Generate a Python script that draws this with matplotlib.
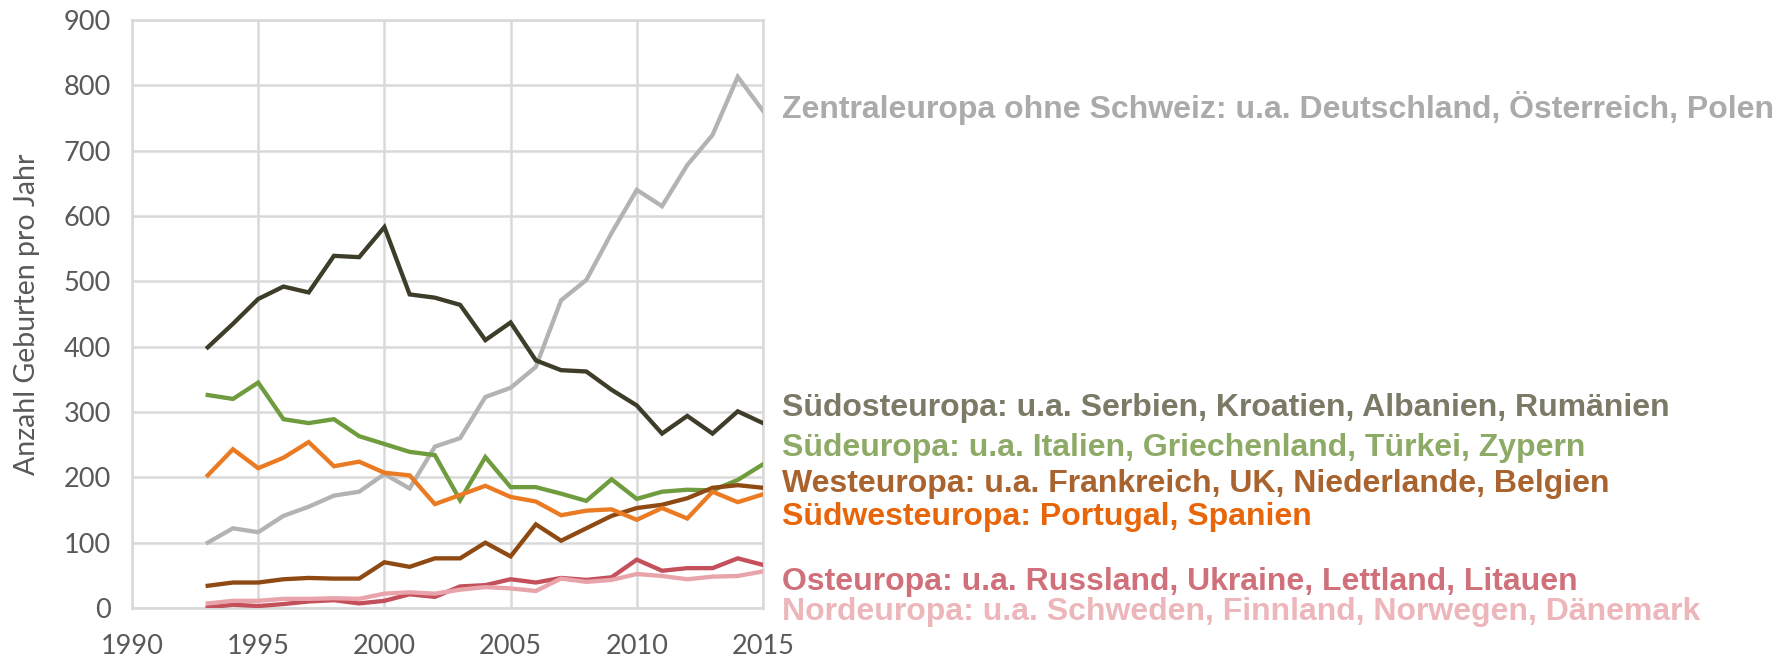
import matplotlib
matplotlib.use("Agg")
import matplotlib.pyplot as plt

years = list(range(1993, 2016))

zentral = [100, 122, 116, 141, 155, 172, 178, 205, 183, 247, 260, 323, 337, 369, 471, 502, 574, 640, 615, 678, 724, 813, 761]
suedost = [399, 435, 473, 492, 483, 539, 537, 583, 480, 475, 464, 410, 437, 379, 364, 362, 334, 310, 267, 294, 267, 301, 283]
sued = [326, 320, 345, 289, 283, 289, 263, 251, 239, 234, 165, 231, 185, 185, 175, 164, 197, 167, 178, 181, 180, 196, 220]
west = [34, 39, 39, 44, 46, 45, 45, 70, 63, 76, 76, 100, 79, 128, 103, 122, 141, 153, 158, 168, 184, 188, 184]
suedwest = [203, 243, 214, 230, 254, 217, 224, 207, 203, 159, 173, 187, 170, 163, 142, 149, 151, 135, 153, 137, 178, 162, 174]
ost = [1, 5, 3, 6, 10, 12, 7, 11, 21, 17, 33, 35, 44, 39, 46, 43, 47, 74, 57, 61, 61, 76, 66]
nord = [7, 11, 11, 14, 14, 15, 14, 22, 24, 22, 28, 32, 30, 26, 45, 40, 43, 52, 49, 44, 48, 49, 56]

labels = [
    "Zentraleuropa ohne Schweiz: u.a. Deutschland, Österreich, Polen",
    "Südosteuropa: u.a. Serbien, Kroatien, Albanien, Rumänien",
    "Südeuropa: u.a. Italien, Griechenland, Türkei, Zypern",
    "Westeuropa: u.a. Frankreich, UK, Niederlande, Belgien",
    "Südwesteuropa: Portugal, Spanien",
    "Osteuropa: u.a. Russland, Ukraine, Lettland, Litauen",
    "Nordeuropa: u.a. Schweden, Finnland, Norwegen, Dänemark",
]
series = [zentral, suedost, sued, west, suedwest, ost, nord]
line_colors = ["#B3B3B3", "#3E3D2A", "#6F9C3E", "#8E4A12", "#EB7B22", "#C4505C", "#E9A3AB"]
label_colors = ["#ABABAB", "#7A7A66", "#8DAA66", "#A8632E", "#E8650A", "#D0707A", "#ECB6BA"]
label_y_px = [108, 408, 448, 484, 517, 582, 612]

xticks = [1990, 1995, 2000, 2005, 2010, 2015]
yticks = list(range(0, 901, 100))

W, H = 1792, 656
fig = plt.figure(figsize=(W / 100, H / 100), dpi=100)
ax = fig.add_axes([132 / W, 1 - 608 / H, (763 - 132) / W, (608 - 20) / H])

tick_font = ["Lato", "DejaVu Sans"]
for ys, c in zip(series, line_colors):
    ax.plot(years, ys, color=c, lw=3.1, solid_joinstyle="miter", zorder=3)

ax.set_xlim(1990, 2015)
ax.set_ylim(0, 900)
ax.set_xticks(xticks)
ax.set_yticks(yticks)
ax.grid(True, color="#D9D9D9", lw=1.8, zorder=0)
for s in ax.spines.values():
    s.set_color("#D9D9D9")
    s.set_linewidth(1.8)
ax.tick_params(length=0, colors="#595959", labelsize=19.5, pad=15)
ax.tick_params(axis="x", pad=19)
for lab in ax.get_xticklabels() + ax.get_yticklabels():
    lab.set_family(tick_font)
ax.set_ylabel("Anzahl Geburten pro Jahr", fontsize=20.5, color="#595959", family=tick_font, labelpad=17)

for lab, c, ypx in zip(labels, label_colors, label_y_px):
    fig.text(782 / W, 1 - ypx / H, lab, color=c, fontsize=23, fontweight="bold",
             family=["Liberation Sans", "DejaVu Sans"], va="center", ha="left")

fig.savefig("out.png", dpi=100)
